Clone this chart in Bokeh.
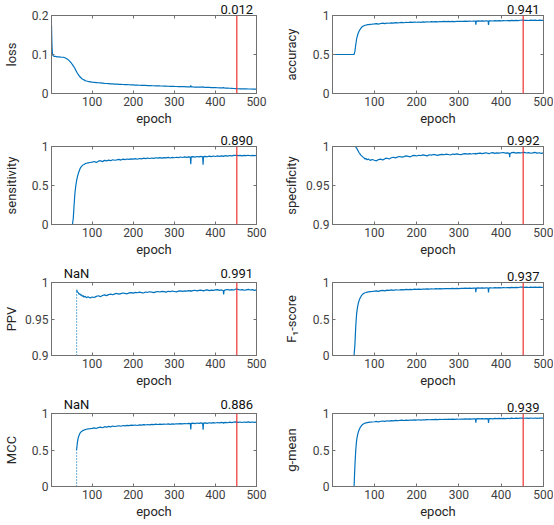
import math
from bokeh.plotting import figure
from bokeh.layouts import gridplot
from bokeh.models import (Range1d, LinearAxis, FixedTicker, NumeralTickFormatter,
                          Span, ColumnDataSource)
from bokeh.embed import file_html
from bokeh.resources import INLINE

nan = float("nan")

epochs = [1, 2, 3, 4, 5, 6, 8, 10, 15, 20, 25, 30, 35, 40, 45, 50,
          52, 54, 56, 58, 60, 62, 64, 66, 68, 70, 72, 74, 76, 78, 80, 83, 86, 90, 95,
          100, 105, 110, 115, 120, 125, 130, 135, 140, 145, 150, 155, 160, 165, 170, 175,
          180, 185, 190, 195, 200, 205, 210, 215, 220, 225, 230, 235, 240, 245, 250, 255,
          260, 265, 270, 275, 280, 285, 290, 295, 300, 305, 310, 315, 320, 325, 330, 335,
          339, 340, 341, 345, 350, 355, 360, 365, 369, 370, 371, 375, 380, 385, 390, 395,
          400, 405, 410, 415, 419, 420, 421, 425, 430, 435, 440, 445, 450, 455, 460, 465,
          470, 475, 480, 485, 490, 495, 500]

loss = [0.175, 0.128, 0.104, 0.099, 0.097, 0.096, 0.095, 0.095, 0.094, 0.094, 0.093, 0.093,
        0.091, 0.088, 0.083, 0.077,
        0.074, 0.071, 0.068, 0.064, 0.060, 0.056, 0.052, 0.049, 0.046, 0.043, 0.041, 0.039,
        0.037, 0.036, 0.035, 0.033, 0.032, 0.031, 0.030,
        0.029, 0.0285, 0.028, 0.0275, 0.027, 0.0265, 0.026, 0.0256, 0.0252, 0.0248, 0.0245,
        0.0242, 0.024, 0.0236, 0.0234, 0.0231, 0.0228, 0.0226, 0.0224, 0.0221, 0.0219,
        0.0216, 0.0215, 0.0212, 0.021, 0.0208, 0.0207, 0.0204, 0.0202, 0.02, 0.0199, 0.0197,
        0.0195, 0.0193, 0.0192, 0.019, 0.0188, 0.0186, 0.0185, 0.0183, 0.0181, 0.018,
        0.0178, 0.0177, 0.0175, 0.0174, 0.0172, 0.0171,
        0.017, 0.0205, 0.0171, 0.0168, 0.0166, 0.0165, 0.0163, 0.0162, 0.0161, 0.0182,
        0.0161, 0.0158, 0.0157, 0.0155, 0.0153, 0.0152, 0.015, 0.0148, 0.0146, 0.0144,
        0.0143, 0.0158, 0.0142, 0.0139, 0.0137, 0.0134, 0.0131, 0.0128, 0.0124, 0.0122,
        0.012, 0.0119, 0.0118, 0.0117, 0.0116, 0.0115, 0.0114, 0.0114, 0.0113]

accuracy = [0.5, 0.5, 0.5, 0.5, 0.5, 0.5, 0.5, 0.5, 0.5, 0.5, 0.5, 0.5, 0.5, 0.5, 0.5, 0.5,
            0.5, 0.54, 0.625, 0.699, 0.743, 0.777, 0.801, 0.820, 0.8345, 0.849, 0.8585,
            0.866, 0.870, 0.875, 0.877, 0.882, 0.884, 0.887, 0.889,
            0.8915, 0.8951, 0.8899, 0.8976, 0.9014, 0.8958, 0.9041, 0.9003, 0.9065, 0.9022,
            0.9089, 0.9056, 0.9081, 0.9113, 0.9073, 0.9130, 0.9105, 0.9142, 0.9116, 0.9153,
            0.9137, 0.9169, 0.9128, 0.9175, 0.9159, 0.9196, 0.9170, 0.9207, 0.9181, 0.9213,
            0.9192, 0.9229, 0.9203, 0.9235, 0.9213, 0.9240, 0.9224, 0.9251, 0.9220, 0.9257,
            0.9235, 0.9262, 0.9246, 0.9278, 0.9252, 0.9284, 0.9262, 0.9294,
            0.9276, 0.8818, 0.9285, 0.9308, 0.9275, 0.9318, 0.9285, 0.9324, 0.9296, 0.8782,
            0.9306, 0.9329, 0.9296, 0.9339, 0.9306, 0.9350, 0.9317, 0.9355, 0.9327, 0.9360,
            0.9336, 0.9290, 0.9347, 0.9370, 0.9337, 0.9381, 0.9353, 0.9391, 0.9400, 0.9368,
            0.9391, 0.9358, 0.9396, 0.9367, 0.9400, 0.9362, 0.9395, 0.9372, 0.9384]

sensitivity = [0.0, 0.0, 0.0, 0.0, 0.0, 0.0, 0.0, 0.0, 0.0, 0.0, 0.0, 0.0, 0.0, 0.0, 0.0, 0.0,
               0.0, 0.08, 0.25, 0.40, 0.49, 0.56, 0.61, 0.65, 0.68, 0.71, 0.73, 0.745, 0.755,
               0.765, 0.77, 0.78, 0.785, 0.79, 0.795,
               0.800, 0.808, 0.796, 0.812, 0.818, 0.806, 0.822, 0.815, 0.826, 0.818, 0.830,
               0.824, 0.828, 0.835, 0.826, 0.838, 0.832, 0.840, 0.834, 0.842, 0.838, 0.845,
               0.836, 0.846, 0.842, 0.850, 0.844, 0.852, 0.846, 0.853, 0.848, 0.856, 0.850,
               0.857, 0.852, 0.858, 0.854, 0.860, 0.853, 0.861, 0.856, 0.862, 0.858, 0.865,
               0.859, 0.866, 0.861, 0.868,
               0.864, 0.772, 0.866, 0.870, 0.864, 0.872, 0.866, 0.873, 0.868, 0.765, 0.870,
               0.874, 0.868, 0.876, 0.870, 0.878, 0.872, 0.879, 0.874, 0.880, 0.876, 0.872,
               0.878, 0.882, 0.876, 0.884, 0.879, 0.886, 0.888, 0.882, 0.886, 0.880, 0.887,
               0.882, 0.888, 0.881, 0.887, 0.883, 0.885]

specificity = [1.0, 1.0, 1.0, 1.0, 1.0, 1.0, 1.0, 1.0, 1.0, 1.0, 1.0, 1.0, 1.0, 1.0, 1.0, 1.0,
               1.0, 1.0, 0.9995, 0.998, 0.996, 0.994, 0.992, 0.9905, 0.989, 0.988, 0.987,
               0.9860, 0.9852, 0.9838, 0.9846, 0.9830, 0.9840, 0.9822, 0.9834,
               0.9824, 0.9816, 0.9832, 0.9838, 0.9826, 0.9844, 0.9850, 0.9840, 0.9856, 0.9862,
               0.9854, 0.9866, 0.9872, 0.9864, 0.9870, 0.9880, 0.9874, 0.9868, 0.9882, 0.9886,
               0.9878, 0.9888, 0.9884, 0.9892, 0.9886, 0.9880, 0.9894, 0.9890, 0.9898, 0.9892,
               0.9886, 0.9896, 0.9900, 0.9894, 0.9902, 0.9897, 0.9891, 0.9903, 0.9899, 0.9906,
               0.9900, 0.9895, 0.9905, 0.9909, 0.9902, 0.9908, 0.9904, 0.9910,
               0.9906, 0.9914, 0.9903, 0.9912, 0.9916, 0.9908, 0.9914, 0.9919, 0.9910, 0.9913,
               0.9907, 0.9917, 0.9921, 0.9912, 0.9918, 0.9914, 0.9920, 0.9923, 0.9915, 0.9919,
               0.9912, 0.9862, 0.9911, 0.9921, 0.9924, 0.9916, 0.9922, 0.9918, 0.9921, 0.9925,
               0.9917, 0.9922, 0.9913, 0.9919, 0.9924, 0.9916, 0.9920, 0.9912, 0.9918]

ppv = [nan, nan, nan, nan, nan, nan, nan, nan, nan, nan, nan, nan, nan, nan, nan, nan,
       nan, nan, nan, nan, nan, 0.990, 0.9872, 0.9862, 0.9840, 0.9846, 0.9826, 0.9832, 0.9812,
       0.9820, 0.9800, 0.9810, 0.9792, 0.9806, 0.9788,
       0.9802, 0.9794, 0.9810, 0.9818, 0.9806, 0.9822, 0.9830, 0.9820, 0.9834, 0.9840,
       0.9832, 0.9844, 0.9850, 0.9840, 0.9848, 0.9856, 0.9850, 0.9845, 0.9858, 0.9862,
       0.9854, 0.9864, 0.9860, 0.9868, 0.9862, 0.9856, 0.9870, 0.9866, 0.9873, 0.9867,
       0.9861, 0.9872, 0.9877, 0.9870, 0.9878, 0.9874, 0.9868, 0.9880, 0.9876, 0.9883,
       0.9877, 0.9871, 0.9882, 0.9886, 0.9879, 0.9885, 0.9881, 0.9888,
       0.9883, 0.9891, 0.9880, 0.9889, 0.9894, 0.9885, 0.9891, 0.9896, 0.9887, 0.9890,
       0.9884, 0.9895, 0.9899, 0.9889, 0.9896, 0.9892, 0.9898, 0.9902, 0.9893, 0.9898,
       0.9890, 0.9838, 0.9889, 0.9900, 0.9904, 0.9895, 0.9902, 0.9897, 0.9910, 0.9906,
       0.9897, 0.9903, 0.9894, 0.9900, 0.9906, 0.9897, 0.9902, 0.9893, 0.9900]

f1_score = [0.0, 0.0, 0.0, 0.0, 0.0, 0.0, 0.0, 0.0, 0.0, 0.0, 0.0, 0.0, 0.0, 0.0, 0.0, 0.0,
            0.0, 0.148, 0.399, 0.570, 0.6555, 0.7154, 0.7541, 0.7835, 0.8045, 0.8249, 0.8379,
            0.8474, 0.8536, 0.8597, 0.8626, 0.8686, 0.8716, 0.8748, 0.8776,
            0.8812, 0.8857, 0.8791, 0.8885, 0.8926, 0.8857, 0.8956, 0.8911, 0.8982, 0.8931,
            0.9007, 0.8969, 0.8997, 0.9035, 0.8986, 0.9054, 0.9023, 0.9067, 0.9037, 0.9080,
            0.9061, 0.9099, 0.9050, 0.9106, 0.9086, 0.9130, 0.9099, 0.9142, 0.9111, 0.9149,
            0.9124, 0.9167, 0.9136, 0.9173, 0.9148, 0.9180, 0.9161, 0.9192, 0.9156, 0.9199,
            0.9174, 0.9205, 0.9187, 0.9223, 0.9193, 0.9230, 0.9206, 0.9242,
            0.9221, 0.8671, 0.9232, 0.9257, 0.9221, 0.9270, 0.9233, 0.9276, 0.9245, 0.8627,
            0.9256, 0.9282, 0.9245, 0.9294, 0.9257, 0.9306, 0.9269, 0.9312, 0.9281, 0.9318,
            0.9292, 0.9244, 0.9305, 0.9330, 0.9294, 0.9342, 0.9311, 0.9354, 0.9367, 0.9330,
            0.9355, 0.9318, 0.9360, 0.9328, 0.9365, 0.9322, 0.9359, 0.9333, 0.9347]

mcc = [nan, nan, nan, nan, nan, nan, nan, nan, nan, nan, nan, nan, nan, nan, nan, nan,
       nan, nan, nan, nan, nan, 0.50, 0.60, 0.665, 0.70, 0.727, 0.742, 0.754, 0.761, 0.769,
       0.7725, 0.780, 0.784, 0.7885, 0.7917,
       0.7965, 0.8025, 0.7939, 0.8071, 0.8142, 0.8047, 0.8193, 0.8124, 0.8237, 0.8161,
       0.8282, 0.8222, 0.8269, 0.8324, 0.8256, 0.8354, 0.8312, 0.8377, 0.8333, 0.8397,
       0.8371, 0.8426, 0.8355, 0.8437, 0.8410, 0.8475, 0.8430, 0.8493, 0.8449, 0.8505,
       0.8469, 0.8534, 0.8489, 0.8545, 0.8508, 0.8555, 0.8528, 0.8575, 0.8520, 0.8585,
       0.8548, 0.8595, 0.8568, 0.8624, 0.8578, 0.8634, 0.8597, 0.8654,
       0.8622, 0.7826, 0.8638, 0.8679, 0.8619, 0.8698, 0.8638, 0.8709, 0.8657, 0.7766,
       0.8676, 0.8719, 0.8657, 0.8737, 0.8676, 0.8756, 0.8695, 0.8765, 0.8713, 0.8775,
       0.8730, 0.8636, 0.8750, 0.8793, 0.8732, 0.8813, 0.8761, 0.8832, 0.8848, 0.8789,
       0.8832, 0.8770, 0.8840, 0.8787, 0.8848, 0.8777, 0.8838, 0.8796, 0.8818]

g_mean = [0.0, 0.0, 0.0, 0.0, 0.0, 0.0, 0.0, 0.0, 0.0, 0.0, 0.0, 0.0, 0.0, 0.0, 0.0, 0.0,
          0.0, 0.283, 0.4999, 0.6318, 0.6986, 0.7461, 0.7779, 0.8024, 0.8201, 0.8375, 0.8488,
          0.8573, 0.8626, 0.8681, 0.8707, 0.8760, 0.8785, 0.8815, 0.8838,
          0.8868, 0.8909, 0.8849, 0.8935, 0.8975, 0.8913, 0.9004, 0.8962, 0.9029, 0.8983,
          0.9055, 0.9019, 0.9046, 0.9081, 0.9037, 0.9099, 0.9071, 0.9112, 0.9083, 0.9124,
          0.9106, 0.9141, 0.9096, 0.9147, 0.9129, 0.9170, 0.9141, 0.9181, 0.9152, 0.9187,
          0.9164, 0.9204, 0.9176, 0.9211, 0.9187, 0.9216, 0.9199, 0.9228, 0.9194, 0.9234,
          0.9210, 0.9240, 0.9222, 0.9257, 0.9228, 0.9262, 0.9239, 0.9274,
          0.9254, 0.8749, 0.9264, 0.9288, 0.9253, 0.9299, 0.9264, 0.9305, 0.9275, 0.8709,
          0.9286, 0.9310, 0.9275, 0.9321, 0.9286, 0.9332, 0.9297, 0.9337, 0.9308, 0.9343,
          0.9318, 0.9273, 0.9330, 0.9354, 0.9319, 0.9365, 0.9336, 0.9376, 0.9386, 0.9352,
          0.9376, 0.9341, 0.9381, 0.9351, 0.9386, 0.9345, 0.9380, 0.9356, 0.9369]

best_epoch = 452
metric_names = ["loss", "accuracy", "sensitivity", "specificity", "PPV", "F\u2081-score", "MCC", "g-mean"]
metric_series = [loss, accuracy, sensitivity, specificity, ppv, f1_score, mcc, g_mean]
best_labels = ["0.012", "0.941", "0.890", "0.992", "0.991", "0.937", "0.886", "0.939"]
y_limits = [(0, 0.2), (0, 1), (0, 1), (0.9, 1), (0.9, 1), (0, 1), (0, 1), (0, 1)]
y_ticks = [[0, 0.1, 0.2], [0, 0.5, 1], [0, 0.5, 1], [0.9, 0.95, 1], [0.9, 0.95, 1],
           [0, 0.5, 1], [0, 0.5, 1], [0, 0.5, 1]]
y_tick_text = [["0", "0.1", "0.2"], ["0", "0.5", "1"], ["0", "0.5", "1"], ["0.9", "0.95", "1"],
               ["0.9", "0.95", "1"], ["0", "0.5", "1"], ["0", "0.5", "1"], ["0", "0.5", "1"]]
x_ticks = [100, 200, 300, 400, 500]
x_limits = (1, 500)

for s in metric_series:
    assert len(s) == len(epochs), len(s)

FONT = "Roboto"
TICK_COLOR = "#404040"
TEXT_COLOR = "#262626"
BOX = "#707070"
BLUE = "#0072BD"


def est_width(txt):
    # rough width of a 12px Roboto tick label
    return sum(3.2 if c == "." else 6.75 for c in txt)


def base_axis(ax):
    ax.major_tick_in = 3
    ax.major_tick_out = 0
    ax.minor_tick_line_color = None
    ax.axis_line_color = BOX
    ax.major_tick_line_color = BOX
    ax.major_label_text_font = FONT
    ax.major_label_text_color = TICK_COLOR
    ax.major_label_text_font_size = "12px"
    ax.axis_label_text_font = FONT
    ax.axis_label_text_font_style = "normal"
    ax.axis_label_text_color = TEXT_COLOR
    ax.axis_label_text_font_size = "13px"


def hidden_labels(ax):
    base_axis(ax)
    ax.major_label_text_font_size = "1px"
    ax.major_label_text_color = None
    ax.major_label_standoff = -1


def make_panel(i):
    col = i % 2
    name = metric_names[i]
    ys = metric_series[i]
    ylo, yhi = y_limits[i]
    if col == 0:
        w, bl, br, lab_base = 280, 46, 24, 3
    else:
        w, bl, br, lab_base = 273, 50, 10, 4
    p = figure(width=w, height=131, output_backend="svg", toolbar_location=None,
               x_range=Range1d(*x_limits), y_range=Range1d(ylo, yhi),
               min_border_left=bl, min_border_right=br, min_border_top=15,
               min_border_bottom=38)
    p.background_fill_color = "white"
    p.border_fill_color = "white"
    p.outline_line_color = BOX
    p.grid.visible = False

    xa = p.xaxis[0]
    base_axis(xa)
    xa.ticker = FixedTicker(ticks=x_ticks)
    xa.axis_label = "epoch"
    xa.major_label_standoff = 3
    xa.axis_label_standoff = 2

    ya = p.yaxis[0]
    base_axis(ya)
    ya.ticker = FixedTicker(ticks=y_ticks[i])
    ya.formatter = NumeralTickFormatter(format="0.[00]")
    ya.axis_label = name
    ya.major_label_standoff = 3
    widest = max(est_width(t) for t in y_tick_text[i])
    ya.axis_label_standoff = int(round(lab_base + est_width("0.95") - widest))

    # inward ticks on the top and right edges of the box
    top = LinearAxis(ticker=FixedTicker(ticks=x_ticks))
    hidden_labels(top)
    p.add_layout(top, "above")
    right = LinearAxis(ticker=FixedTicker(ticks=y_ticks[i]))
    hidden_labels(right)
    p.add_layout(right, "right")

    # texts above the box: NaN marker and value at the best epoch
    first = next((k for k, v in enumerate(ys) if not math.isnan(v)), 0)
    note_ticks = [best_epoch]
    note_text = {best_epoch: best_labels[i]}
    if first > 0:
        note_ticks = [epochs[first], best_epoch]
        note_text[epochs[first]] = "NaN"
    notes = LinearAxis(ticker=FixedTicker(ticks=note_ticks), major_label_overrides=note_text)
    base_axis(notes)
    notes.axis_line_color = None
    notes.major_tick_line_color = None
    notes.major_tick_in = 0
    notes.major_label_text_font_size = "13px"
    notes.major_label_text_color = "#111111"
    notes.major_label_standoff = 2
    p.add_layout(notes, "above")

    src = ColumnDataSource(dict(x=epochs, y=ys))
    p.line("x", "y", source=src, line_color=BLUE, line_width=1.2)

    if first > 0:
        p.segment(x0=[epochs[first]], y0=[ylo], x1=[epochs[first]], y1=[ys[first]],
                  line_color=BLUE, line_dash="1 2", line_width=1.2)

    p.add_layout(Span(location=best_epoch, dimension="height", line_color="#F03030",
                      line_alpha=0.85, line_width=1.4))
    return p


panels = [make_panel(i) for i in range(8)]
grid = gridplot([[panels[0], panels[1]], [panels[2], panels[3]],
                 [panels[4], panels[5]], [panels[6], panels[7]]],
                toolbar_location=None)

open("out.html", "w").write(file_html(grid, INLINE))
